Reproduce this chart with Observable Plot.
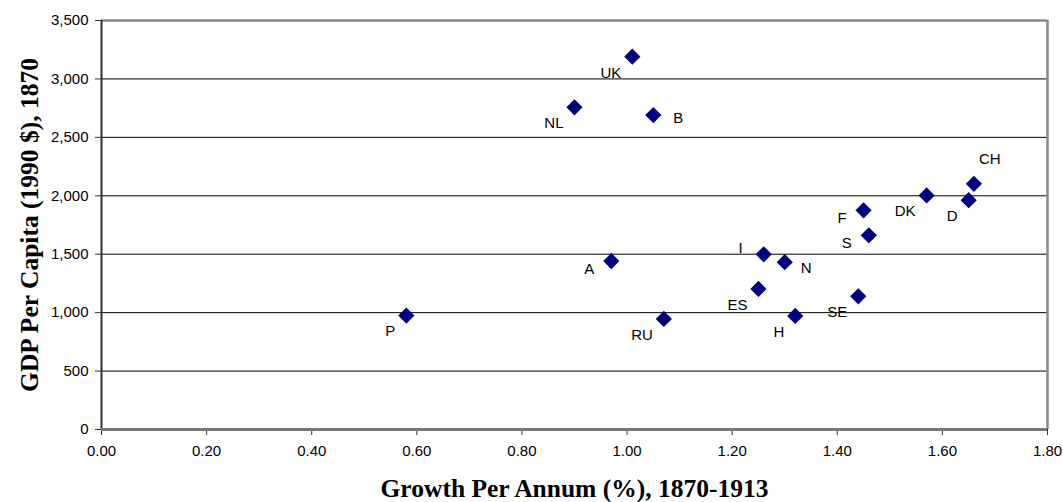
<!DOCTYPE html>
<html>
<head>
<meta charset="utf-8">
<script src="https://cdn.jsdelivr.net/npm/d3@7"></script>
<script src="https://cdn.jsdelivr.net/npm/@observablehq/plot@0.6"></script>
<style>
  html, body { margin: 0; padding: 0; background: #fff; }
  #chart svg { display: block; }
</style>
</head>
<body>
<div id="chart"></div>
<script>
// Data
const countries = ["UK", "NL", "B", "CH", "DK", "D", "F", "S", "I", "N", "A", "ES", "SE", "H", "RU", "P"];
const growth = [1.01, 0.90, 1.05, 1.66, 1.57, 1.65, 1.45, 1.46, 1.26, 1.30, 0.97, 1.25, 1.44, 1.32, 1.07, 0.58];
const gdp = [3190, 2757, 2691, 2102, 2003, 1962, 1876, 1662, 1499, 1432, 1441, 1203, 1140, 972, 946, 975];
// where each label sits relative to its marker
const labelSide = ["bl", "bl", "r", "tr", "bl", "bl", "l", "l", "tl", "br", "l", "bl", "bl", "bl", "bl", "bl"];

const xTicks = [0, 0.2, 0.4, 0.6, 0.8, 1.0, 1.2, 1.4, 1.6, 1.8];
const yTicks = [0, 500, 1000, 1500, 2000, 2500, 3000, 3500];
const xTitle = "Growth Per Annum (%), 1870-1913";
const yTitle = "GDP Per Capita (1990 $), 1870";

const rows = countries.map((c, i) => ({country: c, growth: growth[i], gdp: gdp[i], side: labelSide[i]}));

const sideStyle = {
  bl: {textAnchor: "end", dx: -11, dy: 16},
  l: {textAnchor: "end", dx: -17, dy: 8},
  r: {textAnchor: "start", dx: 20, dy: 3},
  tr: {textAnchor: "start", dx: 5, dy: -25},
  tl: {textAnchor: "end", dx: -21, dy: -6},
  br: {textAnchor: "start", dx: 16, dy: 6}
};

const labelMarks = Object.entries(sideStyle).map(([side, s]) =>
  Plot.text(rows.filter(d => d.side === side), {
    x: "growth", y: "gdp", text: "country",
    textAnchor: s.textAnchor, dx: s.dx, dy: s.dy,
    lineAnchor: "middle", fontSize: 15, fill: "#000"
  })
);

const serif = "'Liberation Serif', 'Times New Roman', serif";

const chart = Plot.plot({
  width: 1063,
  height: 502,
  marginLeft: 101,
  marginRight: 16,
  marginTop: 20,
  marginBottom: 73,
  style: {fontFamily: "'Liberation Sans', Arial, sans-serif", fontSize: "15px", color: "#000", background: "#fff"},
  x: {domain: [0, 1.8]},
  y: {domain: [0, 3500]},
  marks: [
    Plot.ruleY(yTicks.filter(v => v > 0 && v < 3500), {stroke: "#000", strokeWidth: 1}),
    Plot.ruleY([3500], {stroke: "#888", strokeWidth: 2.5}),
    Plot.ruleX([1.8], {stroke: "#888", strokeWidth: 2.5}),
    Plot.axisX({ticks: xTicks, tickFormat: d3.format(".2f"), tickSize: 6, tickPadding: 10, label: null, stroke: "#333"}),
    Plot.axisY({ticks: yTicks, tickFormat: d3.format(","), tickSize: 6, tickPadding: 7, label: null, stroke: "#333"}),
    Plot.ruleX([0], {stroke: "#333", strokeWidth: 2}),
    Plot.ruleY([0], {stroke: "#777", strokeWidth: 3}),
    Plot.dot(rows, {x: "growth", y: "gdp", symbol: "diamond2", r: 7.3, fill: "#000080", stroke: "none"}),
    ...labelMarks,
    Plot.text([xTitle], {frameAnchor: "bottom", dy: 59, text: d => d, fontFamily: serif, fontWeight: "bold", fontSize: 25.5, fill: "#000", textAnchor: "middle", lineAnchor: "middle"}),
    Plot.text([yTitle], {frameAnchor: "left", dx: -72, rotate: -90, text: d => d, fontFamily: serif, fontWeight: "bold", fontSize: 25.5, fill: "#000", textAnchor: "middle", lineAnchor: "middle"})
  ]
});

document.getElementById("chart").appendChild(chart);
</script>
</body>
</html>
